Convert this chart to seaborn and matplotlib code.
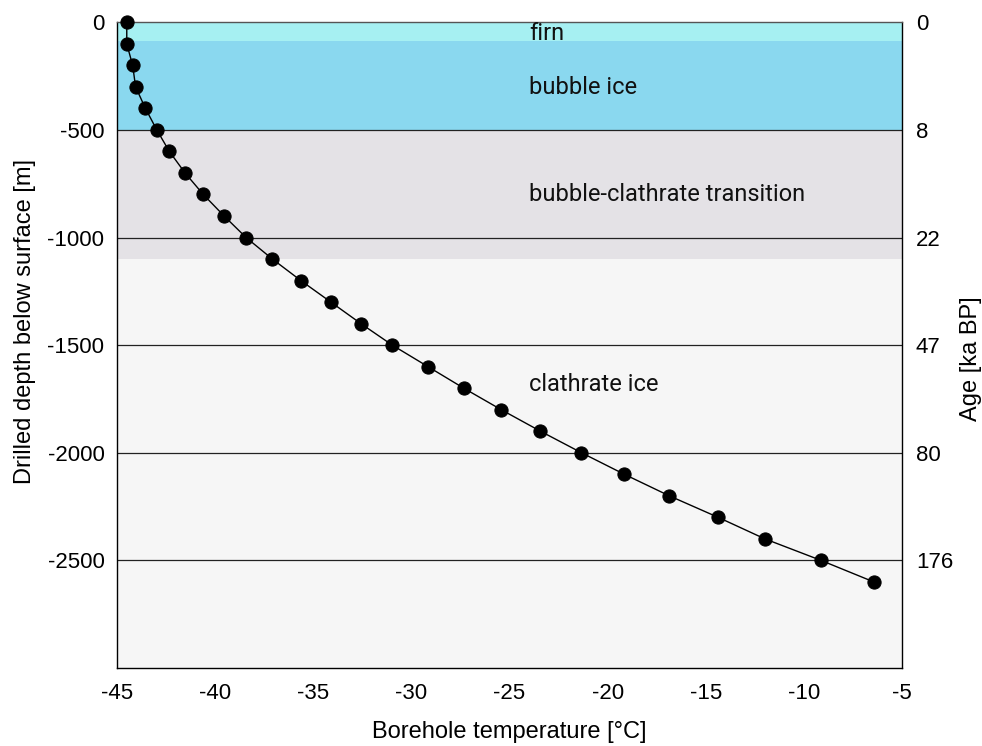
import matplotlib
matplotlib.use("Agg")
import matplotlib.pyplot as plt
import seaborn as sns
import numpy as np
import pandas as pd

# Data
depth = [0, -100, -200, -300, -400, -500, -600, -700, -800, -900, -1000,
         -1100, -1200, -1300, -1400, -1500, -1600, -1700, -1800, -1900,
         -2000, -2100, -2200, -2300, -2400, -2500, -2600]
temperature = [-44.5, -44.5, -44.2, -44.05, -43.55, -42.97, -42.33, -41.53,
               -40.6, -39.54, -38.42, -37.08, -35.63, -34.1, -32.57, -30.97,
               -29.15, -27.33, -25.42, -23.42, -21.33, -19.15, -16.86, -14.37,
               -11.99, -9.13, -6.44]

zone_names = ["firn", "bubble ice", "bubble-clathrate transition", "clathrate ice"]
zone_tops = [0, -85, -500, -1100]
zone_bottoms = [-85, -500, -1100, -3000]
zone_colors = ["#a6f0f2", "#8ad8ef", "#e4e2e6", "#f6f6f6"]
zone_label_depth = [-50, -305, -800, -1685]

depth_ticks = [0, -500, -1000, -1500, -2000, -2500]
age_labels = ["0", "8", "22", "47", "80", "176"]
temp_ticks = [-45, -40, -35, -30, -25, -20, -15, -10, -5]

df = pd.DataFrame({"temperature": temperature, "depth": depth})

sns.set_style("white")
plt.rcParams["font.family"] = ["Liberation Sans", "DejaVu Sans"]
plt.rcParams["text.color"] = "black"
plt.rcParams["axes.labelcolor"] = "black"
plt.rcParams["xtick.color"] = "black"
plt.rcParams["ytick.color"] = "black"

fig = plt.figure(figsize=(9.82, 7.46), dpi=100)
ax = fig.add_axes([0.1191, 0.1046, 0.7994, 0.8655])

for top, bot, col in zip(zone_tops, zone_bottoms, zone_colors):
    ax.axhspan(bot, top, color=col, lw=0, zorder=0)

for d in depth_ticks[1:]:
    ax.axhline(d, color="#222222", lw=0.9, zorder=1)

sns.lineplot(data=df, x="temperature", y="depth", sort=False, estimator=None,
             color="black", lw=1.0, marker="o", markersize=9.5,
             markeredgecolor="black", markerfacecolor="black", ax=ax, zorder=3,
             clip_on=False)

for name, d in zip(zone_names, zone_label_depth):
    ax.text(-24.0, d, name, fontsize=17, family=["Roboto", "DejaVu Sans"],
            va="center", ha="left", color="#111111", zorder=4)

ax.set_xlim(-45, -5)
ax.set_ylim(-3000, 0)
ax.set_xticks(temp_ticks)
ax.set_xticklabels([str(t) for t in temp_ticks])
ax.set_yticks(depth_ticks)
ax.set_yticklabels([str(d) for d in depth_ticks])
ax.tick_params(axis="x", direction="in", length=5, width=0.8, labelsize=16, pad=11)
ax.tick_params(axis="y", length=0, labelsize=16, pad=9)
ax.set_xlabel("Borehole temperature [°C]", fontsize=17, labelpad=12)
ax.set_ylabel("Drilled depth below surface [m]", fontsize=17)
ax.yaxis.set_label_coords(-0.103, 0.537)

for side in ["left", "bottom", "right"]:
    ax.spines[side].set_color("black")
    ax.spines[side].set_linewidth(1.0)
ax.spines["top"].set_color("#555555")
ax.spines["top"].set_linewidth(1.0)

ax2 = ax.twinx()
ax2.set_ylim(ax.get_ylim())
ax2.set_yticks(depth_ticks)
ax2.set_yticklabels(age_labels)
ax2.tick_params(axis="y", length=0, labelsize=16, pad=10)
ax2.set_ylabel("Age [ka BP]", fontsize=17)
ax2.yaxis.set_label_coords(1.074, 0.479)
for s in ax2.spines.values():
    s.set_visible(False)

fig.savefig("out.png", dpi=100)
